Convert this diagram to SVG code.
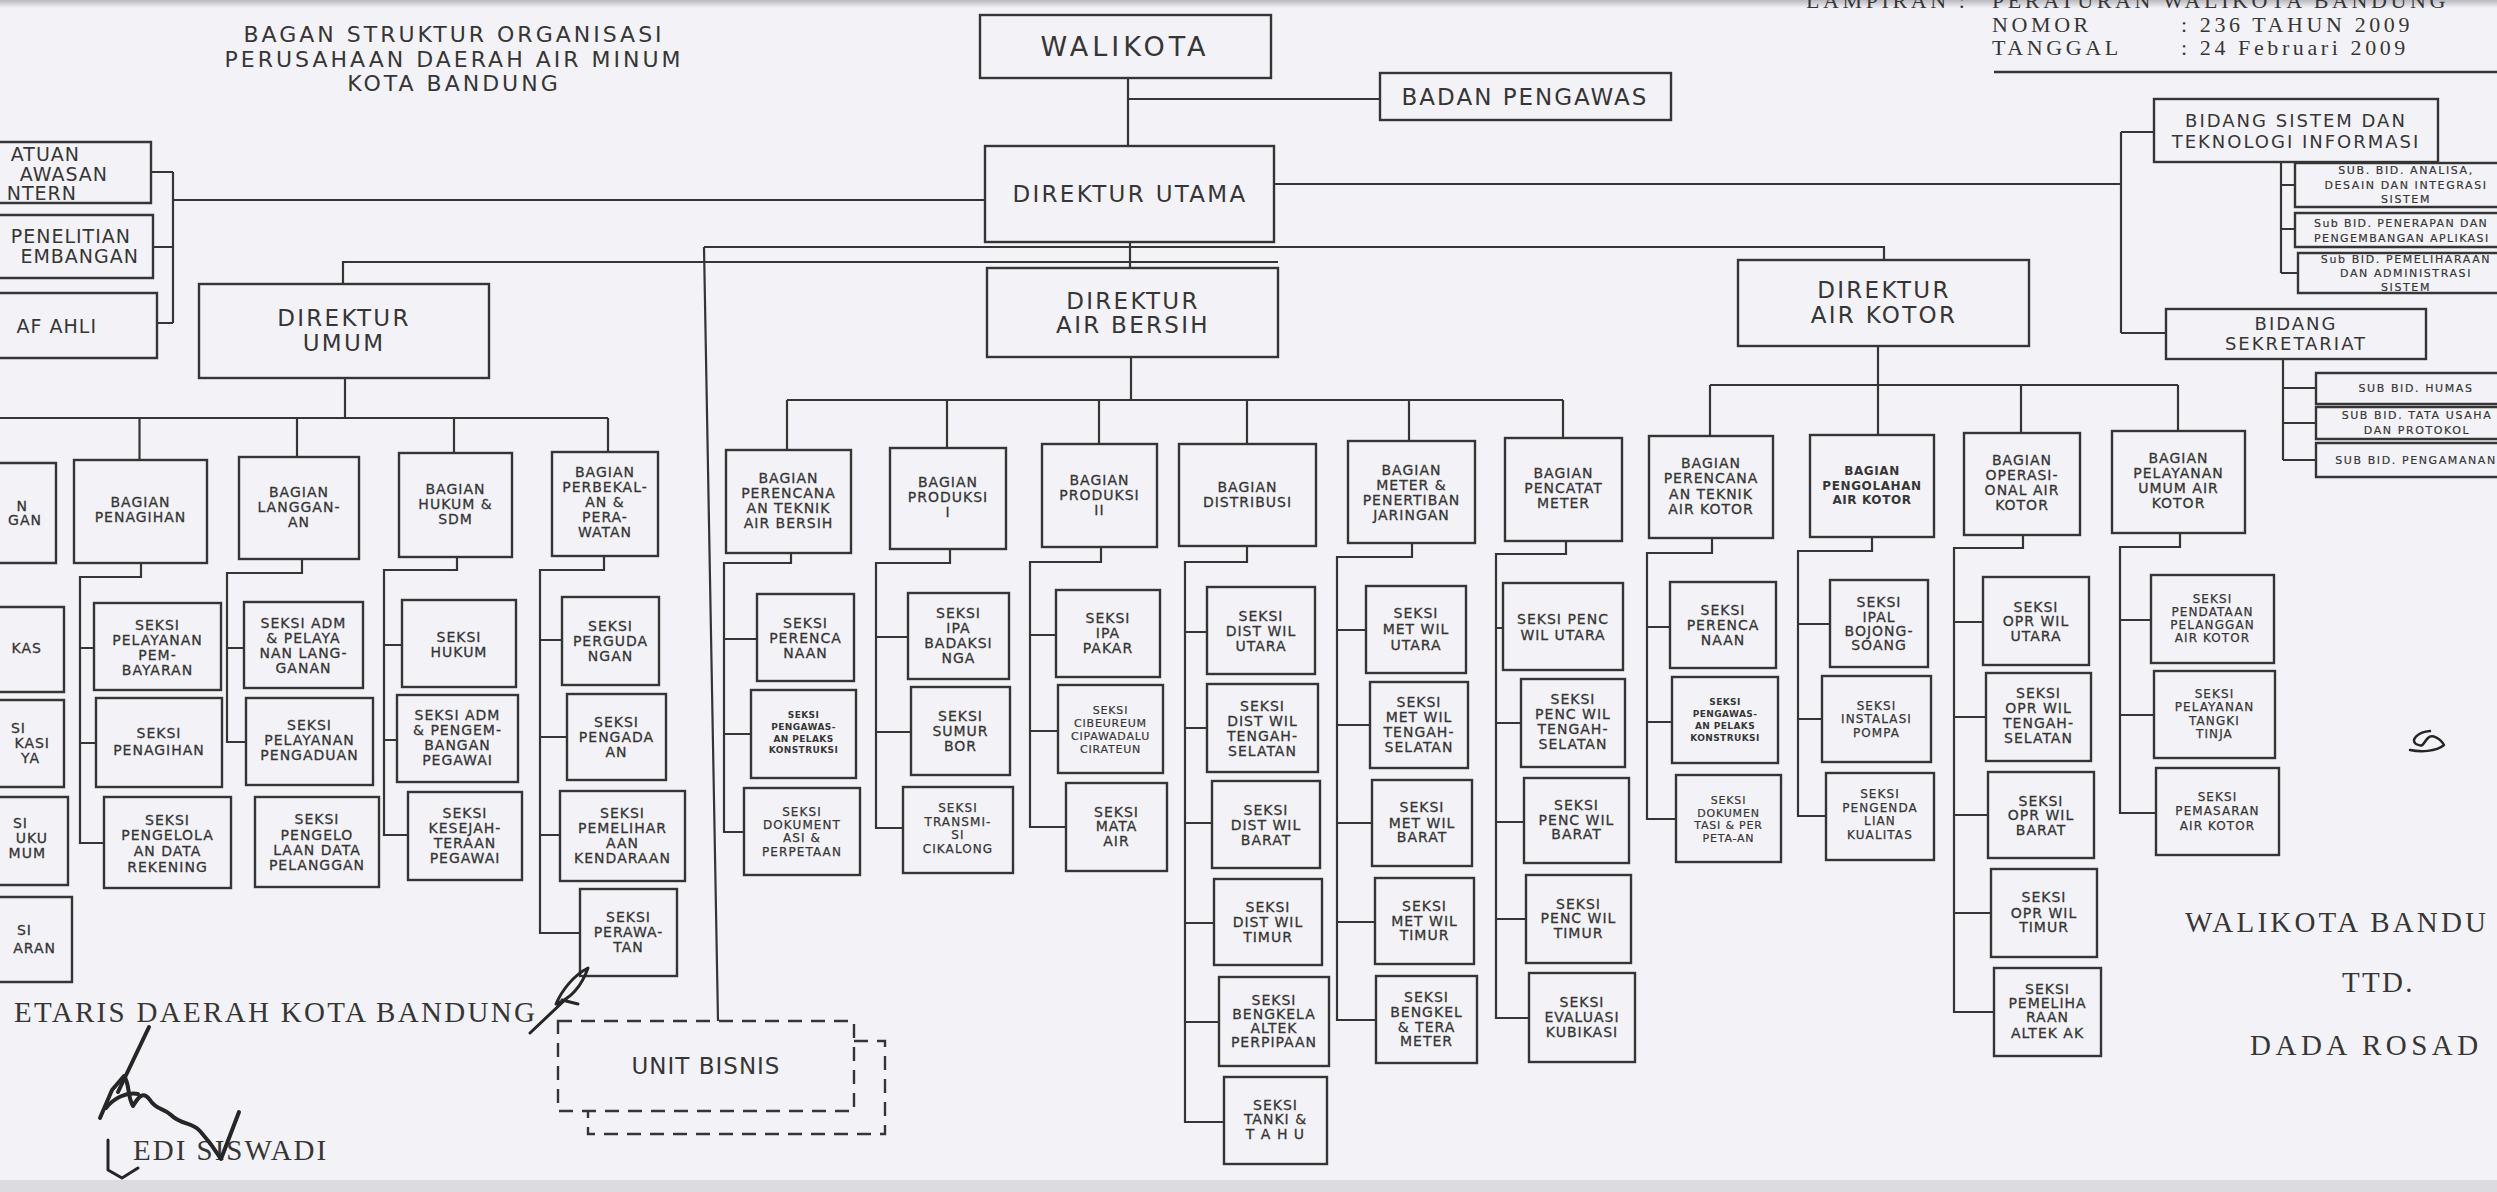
<svg xmlns="http://www.w3.org/2000/svg" width="2497" height="1192" viewBox="0 0 2497 1192">
<defs>
<style>
.bx{fill:none;stroke:#353535;stroke-width:2.4}
.ln{fill:none;stroke:#353535;stroke-width:2.2}
.dsh{fill:none;stroke:#353535;stroke-width:2.4;stroke-dasharray:14 9}
text{font-family:"DejaVu Sans","Liberation Sans",sans-serif;fill:#363636}
.t0{font-size:27px;letter-spacing:4px;text-anchor:middle}
.t1{font-size:23px;letter-spacing:2.3px;text-anchor:middle}
.tt{font-size:22px;letter-spacing:3px;text-anchor:middle}
.tb{font-size:23px;letter-spacing:2px;text-anchor:middle}
.t2{font-size:14px;letter-spacing:1px;text-anchor:middle;stroke:#363636;stroke-width:.3}
.t2s{font-size:12px;letter-spacing:1.1px;text-anchor:middle;stroke:#363636;stroke-width:.25}
.t2x{font-size:11px;letter-spacing:.8px;text-anchor:middle;stroke:#363636;stroke-width:.2}
.t2b{font-size:12px;font-weight:bold;letter-spacing:.6px;text-anchor:middle}
.t3{font-size:9px;font-weight:bold;letter-spacing:.4px;text-anchor:middle}
.t4{font-size:11px;letter-spacing:1.6px;text-anchor:middle;stroke:#363636;stroke-width:.2}
.t5{font-size:18px;letter-spacing:2px;text-anchor:middle}
.tl{font-size:19px;letter-spacing:1px;text-anchor:end}
.te{font-size:14px;letter-spacing:1px;text-anchor:end;stroke:#363636;stroke-width:.3}
.sf{font-family:"Liberation Serif","DejaVu Serif",serif;fill:#363636}
.s22{font-size:22px;letter-spacing:3.6px}
.s29{font-size:29px;letter-spacing:2.3px}
.ink{fill:none;stroke:#262626;stroke-width:4;stroke-linecap:round;stroke-linejoin:round}
</style>
<linearGradient id="topshade" x1="0" y1="0" x2="0" y2="1">
<stop offset="0" stop-color="#b9b9bd"/><stop offset="1" stop-color="#f3f3f7"/>
</linearGradient>
</defs>
<rect x="0" y="0" width="2497" height="1192" fill="#f3f3f7"/>
<rect x="0" y="0" width="2497" height="8" fill="url(#topshade)"/>
<rect x="0" y="1180" width="2497" height="12" fill="#dcdce0"/>

<g id="title">
<text class="tt"><tspan x="454" y="42">BAGAN STRUKTUR ORGANISASI</tspan><tspan x="454" y="66.5">PERUSAHAAN DAERAH AIR MINUM</tspan><tspan x="454" y="90.5">KOTA BANDUNG</tspan></text>
</g>

<g id="lampiran">
<text class="sf s22"><tspan x="1806" y="8">LAMPIRAN :</tspan><tspan x="1992" y="8">PERATURAN WALIKOTA BANDUNG</tspan><tspan x="1992" y="32">NOMOR</tspan><tspan x="2181" y="32">: 236 TAHUN 2009</tspan><tspan x="1992" y="55">TANGGAL</tspan><tspan x="2181" y="55">: 24 Februari 2009</tspan></text>
<line x1="1994" y1="72" x2="2497" y2="72" stroke="#353535" stroke-width="2.5"/>
</g>

<g id="connectors">
<path class="ln" d="M1128 78 V146 M1128 99 H1380"/>
<path class="ln" d="M151 172 H173 M153 247 H173 M157 323 H173 M173 172 V323 M173 200 H985"/>
<path class="ln" d="M1274 184 H2121 M2121 132 V333 M2121 132 H2154 M2121 333 H2166"/>
<path class="ln" d="M2281 162 V273 M2281 185 H2295 M2281 229 H2295 M2281 273 H2298"/>
<path class="ln" d="M2283 359 V460 M2283 388 H2316 M2283 423 H2316 M2283 460 H2316"/>
<path class="ln" d="M1130 242 V268"/>
<path class="ln" d="M704 247 H1884 V260"/>
<path class="ln" d="M343 284 V262 H1278"/>
<path class="ln" d="M704 247 L718 1021"/>
<path class="ln" d="M345 378 V418 M0 418 H608 M139.5 418 V460 M297 418 V457 M454 418 V453 M608 418 V452"/>
<path class="ln" d="M141 563 V577 H80 V843 H104 M80 648 H94 M80 743 H96"/>
<path class="ln" d="M302 559 V573 H227 V742 H246 M227 648 H244"/>
<path class="ln" d="M457 557 V570 H384 V835 H408 M384 645 H402 M384 740 H397"/>
<path class="ln" d="M604 556 V570 H540 V933 H580 M540 640 H562 M540 737 H567 M540 835 H560"/>
<path class="ln" d="M1131 357 V400 M787 400 H1563 M787 400 V450 M947 400 V448 M1099 400 V444 M1247 400 V444 M1409 400 V441 M1563 400 V438"/>
<path class="ln" d="M791 553 V563 H724 V832 H744 M724 639 H757 M724 734 H751"/>
<path class="ln" d="M950 549 V563 H876 V828 H903 M876 637 H908 M876 732 H911"/>
<path class="ln" d="M1101 547 V562 H1030 V827 H1066 M1030 635 H1056 M1030 731 H1058"/>
<path class="ln" d="M1247 546 V562 H1185 V1122 H1224 M1185 632 H1207 M1185 728 H1207 M1185 823 H1212 M1185 923 H1214 M1185 1022 H1219"/>
<path class="ln" d="M1412 543 V557 H1337 V1020 H1376 M1337 630 H1366 M1337 725 H1370 M1337 823 H1372 M1337 922 H1375"/>
<path class="ln" d="M1566 541 V554 H1496 V1018 H1529 M1496 628 H1503 M1496 723 H1521 M1496 822 H1524 M1496 919 H1526"/>
<path class="ln" d="M1878 346 V435 M1710 385 H2178 M1710 385 V436 M2021 385 V433 M2178 385 V431"/>
<path class="ln" d="M1712 538 V553 H1647 V819 H1676 M1647 627 H1670 M1647 722 H1672"/>
<path class="ln" d="M1872 537 V551 H1798 V816 H1826 M1798 624 H1830 M1798 719 H1822"/>
<path class="ln" d="M2023 535 V548 H1954 V1012 H1994 M1954 622 H1983 M1954 717 H1986 M1954 815 H1988 M1954 913 H1991"/>
<path class="ln" d="M2180 533 V547 H2120 V813 H2156 M2120 620 H2151 M2120 715 H2154"/>
</g>

<g id="walikota"><rect class="bx" x="980" y="15" width="291" height="63"/><text class="t0" x="1125" y="56">WALIKOTA</text></g>
<g id="badan-pengawas"><rect class="bx" x="1380" y="73" width="291" height="47"/><text class="tb" x="1525" y="105">BADAN PENGAWAS</text></g>
<g id="direktur-utama"><rect class="bx" x="985" y="146" width="289" height="96"/><text class="t1" x="1130" y="202">DIREKTUR UTAMA</text></g>
<g id="direktur-umum"><rect class="bx" x="199" y="284" width="290" height="94"/><text class="t1"><tspan x="344" y="326">DIREKTUR</tspan><tspan x="344" y="351">UMUM</tspan></text></g>
<g id="direktur-air-bersih"><rect class="bx" x="987" y="268" width="291" height="89"/><text class="t1"><tspan x="1133" y="309">DIREKTUR</tspan><tspan x="1133" y="333">AIR BERSIH</tspan></text></g>
<g id="direktur-air-kotor"><rect class="bx" x="1738" y="260" width="291" height="86"/><text class="t1"><tspan x="1884" y="298">DIREKTUR</tspan><tspan x="1884" y="323">AIR KOTOR</tspan></text></g>

<g id="satuan-pengawasan"><path class="bx" d="M0 142 H151 V203 H0"/><text class="tl"><tspan x="80" y="161">ATUAN</tspan><tspan x="108" y="181">AWASAN</tspan><tspan x="77" y="200">NTERN</tspan></text></g>
<g id="penelitian"><path class="bx" d="M0 215 H153 V278 H0"/><text class="tl"><tspan x="131" y="243">PENELITIAN</tspan><tspan x="139" y="263">EMBANGAN</tspan></text></g>
<g id="staf-ahli"><path class="bx" d="M0 293 H157 V358 H0"/><text class="tl" x="97" y="333">AF AHLI</text></g>

<g id="bidang-sti"><rect class="bx" x="2154" y="99" width="284" height="63"/><text class="t5"><tspan x="2296" y="127">BIDANG SISTEM DAN</tspan><tspan x="2296" y="148">TEKNOLOGI INFORMASI</tspan></text></g>
<g id="sub-analisa"><path class="bx" d="M2497 163 H2295 V207 H2497"/><text class="t4"><tspan x="2406" y="174">SUB. BID. ANALISA,</tspan><tspan x="2406" y="189">DESAIN DAN INTEGRASI</tspan><tspan x="2406" y="203">SISTEM</tspan></text></g>
<g id="sub-penerapan"><path class="bx" d="M2497 213 H2295 V247 H2497"/><text class="t4" style="text-anchor:start;letter-spacing:1.4px"><tspan x="2314" y="227">Sub BID. PENERAPAN DAN</tspan><tspan x="2314" y="242">PENGEMBANGAN APLIKASI</tspan></text></g>
<g id="sub-pemeliharaan"><path class="bx" d="M2497 253 H2298 V293 H2497"/><text class="t4"><tspan x="2406" y="263">Sub BID. PEMELIHARAAN</tspan><tspan x="2406" y="277">DAN ADMINISTRASI</tspan><tspan x="2406" y="291">SISTEM</tspan></text></g>
<g id="bidang-sekretariat"><rect class="bx" x="2166" y="309" width="260" height="50"/><text class="t5"><tspan x="2296" y="330">BIDANG</tspan><tspan x="2296" y="350">SEKRETARIAT</tspan></text></g>
<g id="sub-humas"><path class="bx" d="M2497 373 H2316 V404 H2497"/><text class="t4" x="2416" y="392">SUB BID. HUMAS</text></g>
<g id="sub-tata-usaha"><path class="bx" d="M2497 407 H2316 V439 H2497"/><text class="t4"><tspan x="2417" y="419">SUB BID. TATA USAHA</tspan><tspan x="2417" y="434">DAN PROTOKOL</tspan></text></g>
<g id="sub-pengamanan"><path class="bx" d="M2497 443 H2316 V477 H2497"/><text class="t4" x="2416" y="464">SUB BID. PENGAMANAN</text></g>

<g id="bagian-keuangan"><path class="bx" d="M0 463 H56 V563 H0"/><text class="te"><tspan x="28" y="511">N</tspan><tspan x="42" y="525">GAN</tspan></text></g>
<g id="bagian-penagihan"><rect class="bx" x="74" y="460" width="133" height="103"/><text class="t2"><tspan x="140.5" y="507">BAGIAN</tspan><tspan x="140.5" y="522">PENAGIHAN</tspan></text></g>
<g id="bagian-langganan"><rect class="bx" x="239" y="457" width="120" height="102"/><text class="t2"><tspan x="299" y="497">BAGIAN</tspan><tspan x="299" y="512">LANGGAN-</tspan><tspan x="299" y="527">AN</tspan></text></g>
<g id="bagian-hukum"><rect class="bx" x="399" y="453" width="113" height="104"/><text class="t2"><tspan x="455.5" y="494">BAGIAN</tspan><tspan x="455.5" y="509">HUKUM &amp;</tspan><tspan x="455.5" y="524">SDM</tspan></text></g>
<g id="bagian-perbekalan"><rect class="bx" x="552" y="452" width="106" height="104"/><text class="t2"><tspan x="605" y="477">BAGIAN</tspan><tspan x="605" y="492">PERBEKAL-</tspan><tspan x="605" y="507">AN &amp;</tspan><tspan x="605" y="522">PERA-</tspan><tspan x="605" y="537">WATAN</tspan></text></g>

<g id="seksi-kas"><path class="bx" d="M0 607 H64 V692 H0"/><text class="te" x="42" y="653">KAS</text></g>
<g id="seksi-kasi"><path class="bx" d="M0 700 H64 V787 H0"/><text class="te"><tspan x="26" y="733">SI</tspan><tspan x="50" y="748">KASI</tspan><tspan x="40" y="763">YA</tspan></text></g>
<g id="seksi-uku"><path class="bx" d="M0 797 H68 V885 H0"/><text class="te"><tspan x="28" y="828">SI</tspan><tspan x="48" y="843">UKU</tspan><tspan x="46" y="858">MUM</tspan></text></g>
<g id="seksi-aran"><path class="bx" d="M0 897 H72 V982 H0"/><text class="te"><tspan x="32" y="935">SI</tspan><tspan x="56" y="953">ARAN</tspan></text></g>

<g id="seksi-pelayanan-pembayaran"><rect class="bx" x="94" y="603" width="127" height="87"/><text class="t2"><tspan x="157.5" y="630">SEKSI</tspan><tspan x="157.5" y="645">PELAYANAN</tspan><tspan x="157.5" y="660">PEM-</tspan><tspan x="157.5" y="675">BAYARAN</tspan></text></g>
<g id="seksi-penagihan"><rect class="bx" x="96" y="698" width="126" height="89"/><text class="t2"><tspan x="159" y="738">SEKSI</tspan><tspan x="159" y="755">PENAGIHAN</tspan></text></g>
<g id="seksi-pengelolaan-rekening"><rect class="bx" x="104" y="797" width="127" height="91"/><text class="t2"><tspan x="167.5" y="825">SEKSI</tspan><tspan x="167.5" y="840">PENGELOLA</tspan><tspan x="167.5" y="856">AN DATA</tspan><tspan x="167.5" y="872">REKENING</tspan></text></g>

<g id="seksi-adm-pelayanan"><rect class="bx" x="244" y="602" width="119" height="86"/><text class="t2"><tspan x="303.5" y="628">SEKSI ADM</tspan><tspan x="303.5" y="643">&amp; PELAYA</tspan><tspan x="303.5" y="658">NAN LANG-</tspan><tspan x="303.5" y="673">GANAN</tspan></text></g>
<g id="seksi-pengaduan"><rect class="bx" x="246" y="698" width="127" height="87"/><text class="t2"><tspan x="309.5" y="730">SEKSI</tspan><tspan x="309.5" y="745">PELAYANAN</tspan><tspan x="309.5" y="760">PENGADUAN</tspan></text></g>
<g id="seksi-data-pelanggan"><rect class="bx" x="255" y="797" width="124" height="90"/><text class="t2"><tspan x="317" y="824">SEKSI</tspan><tspan x="317" y="840">PENGELO</tspan><tspan x="317" y="855">LAAN DATA</tspan><tspan x="317" y="870">PELANGGAN</tspan></text></g>

<g id="seksi-hukum"><rect class="bx" x="402" y="600" width="114" height="87"/><text class="t2"><tspan x="459" y="642">SEKSI</tspan><tspan x="459" y="657">HUKUM</tspan></text></g>
<g id="seksi-adm-pegawai"><rect class="bx" x="397" y="695" width="121" height="87"/><text class="t2"><tspan x="457.5" y="720">SEKSI ADM</tspan><tspan x="457.5" y="735">&amp; PENGEM-</tspan><tspan x="457.5" y="750">BANGAN</tspan><tspan x="457.5" y="765">PEGAWAI</tspan></text></g>
<g id="seksi-kesejahteraan"><rect class="bx" x="408" y="792" width="114" height="88"/><text class="t2"><tspan x="465" y="818">SEKSI</tspan><tspan x="465" y="833">KESEJAH-</tspan><tspan x="465" y="848">TERAAN</tspan><tspan x="465" y="863">PEGAWAI</tspan></text></g>

<g id="seksi-pergudangan"><rect class="bx" x="562" y="597" width="97" height="88"/><text class="t2"><tspan x="610.5" y="631">SEKSI</tspan><tspan x="610.5" y="646">PERGUDA</tspan><tspan x="610.5" y="661">NGAN</tspan></text></g>
<g id="seksi-pengadaan"><rect class="bx" x="567" y="694" width="99" height="86"/><text class="t2"><tspan x="616.5" y="727">SEKSI</tspan><tspan x="616.5" y="742">PENGADA</tspan><tspan x="616.5" y="757">AN</tspan></text></g>
<g id="seksi-pemeliharaan-kendaraan"><rect class="bx" x="560" y="791" width="125" height="90"/><text class="t2"><tspan x="622.5" y="818">SEKSI</tspan><tspan x="622.5" y="833">PEMELIHAR</tspan><tspan x="622.5" y="848">AAN</tspan><tspan x="622.5" y="863">KENDARAAN</tspan></text></g>
<g id="seksi-perawatan"><rect class="bx" x="580" y="889" width="97" height="87"/><text class="t2"><tspan x="628.5" y="922">SEKSI</tspan><tspan x="628.5" y="937">PERAWA-</tspan><tspan x="628.5" y="952">TAN</tspan></text></g>

<g id="bagian-perencanaan-ab"><rect class="bx" x="726" y="450" width="125" height="103"/><text class="t2"><tspan x="788.5" y="483">BAGIAN</tspan><tspan x="788.5" y="498">PERENCANA</tspan><tspan x="788.5" y="513">AN TEKNIK</tspan><tspan x="788.5" y="528">AIR BERSIH</tspan></text></g>
<g id="bagian-produksi-1"><rect class="bx" x="890" y="448" width="116" height="101"/><text class="t2"><tspan x="948" y="487">BAGIAN</tspan><tspan x="948" y="502">PRODUKSI</tspan><tspan x="948" y="517">I</tspan></text></g>
<g id="bagian-produksi-2"><rect class="bx" x="1042" y="444" width="115" height="103"/><text class="t2"><tspan x="1099.5" y="485">BAGIAN</tspan><tspan x="1099.5" y="500">PRODUKSI</tspan><tspan x="1099.5" y="515">II</tspan></text></g>
<g id="bagian-distribusi"><rect class="bx" x="1179" y="444" width="137" height="102"/><text class="t2"><tspan x="1247.5" y="492">BAGIAN</tspan><tspan x="1247.5" y="507">DISTRIBUSI</tspan></text></g>
<g id="bagian-meter"><rect class="bx" x="1348" y="441" width="127" height="102"/><text class="t2"><tspan x="1411.5" y="475">BAGIAN</tspan><tspan x="1411.5" y="490">METER &amp;</tspan><tspan x="1411.5" y="505">PENERTIBAN</tspan><tspan x="1411.5" y="520">JARINGAN</tspan></text></g>
<g id="bagian-pencatat"><rect class="bx" x="1505" y="438" width="117" height="103"/><text class="t2"><tspan x="1563.5" y="478">BAGIAN</tspan><tspan x="1563.5" y="493">PENCATAT</tspan><tspan x="1563.5" y="508">METER</tspan></text></g>

<g id="seksi-perencanaan-ab"><rect class="bx" x="757" y="594" width="97" height="87"/><text class="t2"><tspan x="805.5" y="628">SEKSI</tspan><tspan x="805.5" y="643">PERENCA</tspan><tspan x="805.5" y="658">NAAN</tspan></text></g>
<g id="seksi-pengawasan-ab"><rect class="bx" x="751" y="690" width="105" height="88"/><text class="t3"><tspan x="803.5" y="718">SEKSI</tspan><tspan x="803.5" y="730">PENGAWAS-</tspan><tspan x="803.5" y="742">AN PELAKS</tspan><tspan x="803.5" y="753">KONSTRUKSI</tspan></text></g>
<g id="seksi-dokumentasi-ab"><rect class="bx" x="744" y="788" width="116" height="87"/><text class="t2s"><tspan x="802" y="816">SEKSI</tspan><tspan x="802" y="829">DOKUMENT</tspan><tspan x="802" y="842">ASI &amp;</tspan><tspan x="802" y="856">PERPETAAN</tspan></text></g>

<g id="seksi-ipa-badaksinga"><rect class="bx" x="908" y="593" width="101" height="86"/><text class="t2"><tspan x="958.5" y="618">SEKSI</tspan><tspan x="958.5" y="633">IPA</tspan><tspan x="958.5" y="648">BADAKSI</tspan><tspan x="958.5" y="663">NGA</tspan></text></g>
<g id="seksi-sumur-bor"><rect class="bx" x="911" y="687" width="99" height="88"/><text class="t2"><tspan x="960.5" y="721">SEKSI</tspan><tspan x="960.5" y="736">SUMUR</tspan><tspan x="960.5" y="751">BOR</tspan></text></g>
<g id="seksi-transmisi"><rect class="bx" x="903" y="787" width="110" height="86"/><text class="t2s"><tspan x="958" y="812">SEKSI</tspan><tspan x="958" y="826">TRANSMI-</tspan><tspan x="958" y="839">SI</tspan><tspan x="958" y="853">CIKALONG</tspan></text></g>

<g id="seksi-ipa-pakar"><rect class="bx" x="1056" y="590" width="104" height="87"/><text class="t2"><tspan x="1108" y="623">SEKSI</tspan><tspan x="1108" y="638">IPA</tspan><tspan x="1108" y="653">PAKAR</tspan></text></g>
<g id="seksi-cibeureum"><rect class="bx" x="1058" y="685" width="105" height="88"/><text class="t2x"><tspan x="1110.5" y="713.5">SEKSI</tspan><tspan x="1110.5" y="726.5">CIBEUREUM</tspan><tspan x="1110.5" y="739.5">CIPAWADALU</tspan><tspan x="1110.5" y="752.5">CIRATEUN</tspan></text></g>
<g id="seksi-mata-air"><rect class="bx" x="1066" y="783" width="101" height="88"/><text class="t2"><tspan x="1116.5" y="817">SEKSI</tspan><tspan x="1116.5" y="831">MATA</tspan><tspan x="1116.5" y="846">AIR</tspan></text></g>

<g id="seksi-dist-utara"><rect class="bx" x="1207" y="587" width="108" height="87"/><text class="t2"><tspan x="1261" y="621">SEKSI</tspan><tspan x="1261" y="636">DIST WIL</tspan><tspan x="1261" y="651">UTARA</tspan></text></g>
<g id="seksi-dist-tengah"><rect class="bx" x="1207" y="684" width="111" height="88"/><text class="t2"><tspan x="1262.5" y="710.5">SEKSI</tspan><tspan x="1262.5" y="725.5">DIST WIL</tspan><tspan x="1262.5" y="740.5">TENGAH-</tspan><tspan x="1262.5" y="755.5">SELATAN</tspan></text></g>
<g id="seksi-dist-barat"><rect class="bx" x="1212" y="781" width="108" height="87"/><text class="t2"><tspan x="1266" y="814.5">SEKSI</tspan><tspan x="1266" y="829.5">DIST WIL</tspan><tspan x="1266" y="844.5">BARAT</tspan></text></g>
<g id="seksi-dist-timur"><rect class="bx" x="1214" y="879" width="108" height="86"/><text class="t2"><tspan x="1268" y="912">SEKSI</tspan><tspan x="1268" y="927">DIST WIL</tspan><tspan x="1268" y="942">TIMUR</tspan></text></g>
<g id="seksi-bengkel-altek"><rect class="bx" x="1219" y="977" width="110" height="89"/><text class="t2"><tspan x="1274" y="1005">SEKSI</tspan><tspan x="1274" y="1019">BENGKELA</tspan><tspan x="1274" y="1033">ALTEK</tspan><tspan x="1274" y="1047">PERPIPAAN</tspan></text></g>
<g id="seksi-tanki"><rect class="bx" x="1224" y="1077" width="103" height="87"/><text class="t2"><tspan x="1275.5" y="1110">SEKSI</tspan><tspan x="1275.5" y="1124">TANKI &amp;</tspan><tspan x="1275.5" y="1139">T A H U</tspan></text></g>

<g id="seksi-met-utara"><rect class="bx" x="1366" y="586" width="100" height="87"/><text class="t2"><tspan x="1416" y="618">SEKSI</tspan><tspan x="1416" y="634">MET WIL</tspan><tspan x="1416" y="650">UTARA</tspan></text></g>
<g id="seksi-met-tengah"><rect class="bx" x="1370" y="682" width="98" height="86"/><text class="t2"><tspan x="1419" y="707">SEKSI</tspan><tspan x="1419" y="722">MET WIL</tspan><tspan x="1419" y="737">TENGAH-</tspan><tspan x="1419" y="752">SELATAN</tspan></text></g>
<g id="seksi-met-barat"><rect class="bx" x="1372" y="780" width="100" height="86"/><text class="t2"><tspan x="1422" y="812">SEKSI</tspan><tspan x="1422" y="828">MET WIL</tspan><tspan x="1422" y="842">BARAT</tspan></text></g>
<g id="seksi-met-timur"><rect class="bx" x="1375" y="878" width="99" height="86"/><text class="t2"><tspan x="1424.5" y="911">SEKSI</tspan><tspan x="1424.5" y="926">MET WIL</tspan><tspan x="1424.5" y="940">TIMUR</tspan></text></g>
<g id="seksi-bengkel-tera"><rect class="bx" x="1376" y="976" width="101" height="87"/><text class="t2"><tspan x="1426.5" y="1002">SEKSI</tspan><tspan x="1426.5" y="1017">BENGKEL</tspan><tspan x="1426.5" y="1032">&amp; TERA</tspan><tspan x="1426.5" y="1046">METER</tspan></text></g>

<g id="seksi-penc-utara"><rect class="bx" x="1503" y="583" width="120" height="87"/><text class="t2"><tspan x="1563" y="624">SEKSI PENC</tspan><tspan x="1563" y="640">WIL UTARA</tspan></text></g>
<g id="seksi-penc-tengah"><rect class="bx" x="1521" y="679" width="104" height="88"/><text class="t2"><tspan x="1573" y="704">SEKSI</tspan><tspan x="1573" y="719">PENC WIL</tspan><tspan x="1573" y="734">TENGAH-</tspan><tspan x="1573" y="749">SELATAN</tspan></text></g>
<g id="seksi-penc-barat"><rect class="bx" x="1524" y="778" width="105" height="85"/><text class="t2"><tspan x="1576.5" y="810">SEKSI</tspan><tspan x="1576.5" y="825">PENC WIL</tspan><tspan x="1576.5" y="839">BARAT</tspan></text></g>
<g id="seksi-penc-timur"><rect class="bx" x="1526" y="875" width="105" height="88"/><text class="t2"><tspan x="1578.5" y="909">SEKSI</tspan><tspan x="1578.5" y="923">PENC WIL</tspan><tspan x="1578.5" y="938">TIMUR</tspan></text></g>
<g id="seksi-evaluasi"><rect class="bx" x="1529" y="973" width="106" height="89"/><text class="t2"><tspan x="1582" y="1007">SEKSI</tspan><tspan x="1582" y="1022">EVALUASI</tspan><tspan x="1582" y="1037">KUBIKASI</tspan></text></g>

<g id="bagian-perencanaan-ak"><rect class="bx" x="1649" y="436" width="124" height="102"/><text class="t2"><tspan x="1711" y="468">BAGIAN</tspan><tspan x="1711" y="483">PERENCANA</tspan><tspan x="1711" y="499">AN TEKNIK</tspan><tspan x="1711" y="514">AIR KOTOR</tspan></text></g>
<g id="bagian-pengolahan"><rect class="bx" x="1810" y="435" width="124" height="102"/><text class="t2b"><tspan x="1872" y="474.5">BAGIAN</tspan><tspan x="1872" y="489.5">PENGOLAHAN</tspan><tspan x="1872" y="503.5">AIR KOTOR</tspan></text></g>
<g id="bagian-operasional"><rect class="bx" x="1964" y="433" width="116" height="102"/><text class="t2"><tspan x="2022" y="465">BAGIAN</tspan><tspan x="2022" y="480">OPERASI-</tspan><tspan x="2022" y="495">ONAL AIR</tspan><tspan x="2022" y="510">KOTOR</tspan></text></g>
<g id="bagian-pelayanan-umum"><rect class="bx" x="2112" y="431" width="133" height="102"/><text class="t2"><tspan x="2178.5" y="463">BAGIAN</tspan><tspan x="2178.5" y="478">PELAYANAN</tspan><tspan x="2178.5" y="493">UMUM AIR</tspan><tspan x="2178.5" y="508">KOTOR</tspan></text></g>

<g id="seksi-perencanaan-ak"><rect class="bx" x="1670" y="582" width="106" height="86"/><text class="t2"><tspan x="1723" y="615">SEKSI</tspan><tspan x="1723" y="630">PERENCA</tspan><tspan x="1723" y="645">NAAN</tspan></text></g>
<g id="seksi-pengawasan-ak"><rect class="bx" x="1672" y="677" width="106" height="86"/><text class="t3"><tspan x="1725" y="705">SEKSI</tspan><tspan x="1725" y="717">PENGAWAS-</tspan><tspan x="1725" y="729">AN PELAKS</tspan><tspan x="1725" y="741">KONSTRUKSI</tspan></text></g>
<g id="seksi-dokumentasi-ak"><rect class="bx" x="1676" y="775" width="105" height="87"/><text class="t2x"><tspan x="1728.5" y="804">SEKSI</tspan><tspan x="1728.5" y="816.5">DOKUMEN</tspan><tspan x="1728.5" y="829">TASI &amp; PER</tspan><tspan x="1728.5" y="841.5">PETA-AN</tspan></text></g>

<g id="seksi-ipal"><rect class="bx" x="1830" y="580" width="98" height="87"/><text class="t2"><tspan x="1879" y="607">SEKSI</tspan><tspan x="1879" y="622">IPAL</tspan><tspan x="1879" y="636">BOJONG-</tspan><tspan x="1879" y="650">SOANG</tspan></text></g>
<g id="seksi-instalasi-pompa"><rect class="bx" x="1822" y="676" width="109" height="86"/><text class="t2s"><tspan x="1876.5" y="709.5">SEKSI</tspan><tspan x="1876.5" y="722.5">INSTALASI</tspan><tspan x="1876.5" y="736.5">POMPA</tspan></text></g>
<g id="seksi-pengendalian"><rect class="bx" x="1826" y="773" width="108" height="87"/><text class="t2s"><tspan x="1880" y="797.5">SEKSI</tspan><tspan x="1880" y="811.5">PENGENDA</tspan><tspan x="1880" y="824.5">LIAN</tspan><tspan x="1880" y="838.5">KUALITAS</tspan></text></g>

<g id="seksi-opr-utara"><rect class="bx" x="1983" y="577" width="106" height="88"/><text class="t2"><tspan x="2036" y="612">SEKSI</tspan><tspan x="2036" y="626">OPR WIL</tspan><tspan x="2036" y="641">UTARA</tspan></text></g>
<g id="seksi-opr-tengah"><rect class="bx" x="1986" y="673" width="105" height="88"/><text class="t2"><tspan x="2038.5" y="698">SEKSI</tspan><tspan x="2038.5" y="713">OPR WIL</tspan><tspan x="2038.5" y="728">TENGAH-</tspan><tspan x="2038.5" y="743">SELATAN</tspan></text></g>
<g id="seksi-opr-barat"><rect class="bx" x="1988" y="772" width="106" height="86"/><text class="t2"><tspan x="2041" y="806">SEKSI</tspan><tspan x="2041" y="820">OPR WIL</tspan><tspan x="2041" y="835">BARAT</tspan></text></g>
<g id="seksi-opr-timur"><rect class="bx" x="1991" y="869" width="106" height="88"/><text class="t2"><tspan x="2044" y="902">SEKSI</tspan><tspan x="2044" y="918">OPR WIL</tspan><tspan x="2044" y="932">TIMUR</tspan></text></g>
<g id="seksi-pemeliharaan-altek"><rect class="bx" x="1994" y="968" width="107" height="88"/><text class="t2"><tspan x="2047.5" y="994">SEKSI</tspan><tspan x="2047.5" y="1008">PEMELIHA</tspan><tspan x="2047.5" y="1022">RAAN</tspan><tspan x="2047.5" y="1038">ALTEK AK</tspan></text></g>

<g id="seksi-pendataan"><rect class="bx" x="2151" y="575" width="123" height="88"/><text class="t2s"><tspan x="2212.5" y="602.5">SEKSI</tspan><tspan x="2212.5" y="615.5">PENDATAAN</tspan><tspan x="2212.5" y="628.5">PELANGGAN</tspan><tspan x="2212.5" y="641.5">AIR KOTOR</tspan></text></g>
<g id="seksi-tangki-tinja"><rect class="bx" x="2154" y="671" width="121" height="87"/><text class="t2s"><tspan x="2214.5" y="697.5">SEKSI</tspan><tspan x="2214.5" y="710.5">PELAYANAN</tspan><tspan x="2214.5" y="724.5">TANGKI</tspan><tspan x="2214.5" y="737.5">TINJA</tspan></text></g>
<g id="seksi-pemasaran"><rect class="bx" x="2156" y="768" width="123" height="87"/><text class="t2s"><tspan x="2217.5" y="800.5">SEKSI</tspan><tspan x="2217.5" y="814.5">PEMASARAN</tspan><tspan x="2217.5" y="829.5">AIR KOTOR</tspan></text></g>

<g id="unit-bisnis">
<rect class="dsh" x="558" y="1021" width="296" height="90"/>
<path class="dsh" d="M854 1041 H885 V1134 H588 V1112"/>
<text class="tb" style="letter-spacing:1px" x="706" y="1074">UNIT BISNIS</text>
</g>

<g id="sekda">
<text class="sf s29" x="14" y="1022">ETARIS DAERAH KOTA BANDUNG</text>
<text class="sf s29" style="letter-spacing:2px" x="133" y="1160">EDI SISWADI</text>
<path class="ink" d="M149 1027 L118 1092"/>
<path class="ink" d="M100 1118 L112 1090 L124 1076 C130 1084 127 1096 133 1106 C139 1096 143 1091 150 1100 C156 1110 164 1108 171 1115 C181 1125 192 1122 200 1131 C209 1141 216 1151 221 1159 L239 1112"/>
<path class="ink" d="M106 1108 C114 1098 126 1092 138 1094"/>
<path class="ink" style="stroke-width:3" d="M108 1140 V1170 L122 1178 L138 1168"/>
<path class="ink" style="stroke-width:3" d="M530 1033 L568 997 M556 1004 C562 990 574 975 588 968 C582 985 572 998 556 1004 Z M562 1000 L578 1004"/>
</g>
<g id="walikota-ttd">
<text class="sf s29" style="letter-spacing:3.2px" x="2185" y="932">WALIKOTA BANDU</text>
<text class="sf s29" x="2342" y="992">TTD.</text>
<text class="sf s29" style="letter-spacing:4.5px" x="2250" y="1055">DADA ROSAD</text>
<path class="ink" style="stroke-width:2.5" d="M2410 750 C2420 752 2436 752 2444 745 C2440 738 2432 734 2428 738 C2422 744 2424 748 2416 744 C2410 740 2418 732 2430 731"/>
</g>
</svg>
